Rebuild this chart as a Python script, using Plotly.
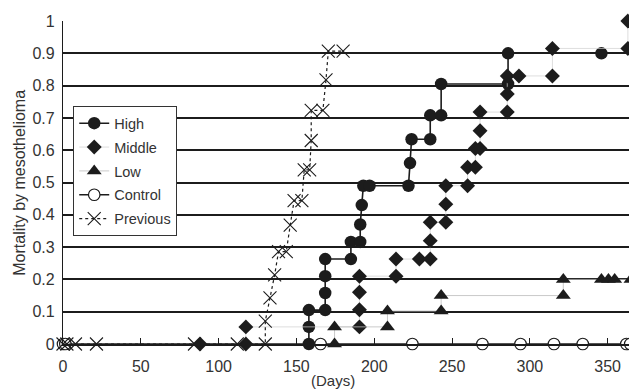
import plotly.graph_objects as go

# ---- data (days, cumulative mortality) ----
high_days = [158, 158, 158, 168.5, 168.5, 168.5, 168.5, 185, 185, 191, 191, 192, 193, 197, 222, 223, 224, 236, 236, 243, 243, 286, 286, 346]
high_mort = [0, 0.053, 0.105, 0.105, 0.158, 0.21, 0.263, 0.263, 0.316, 0.316, 0.37, 0.43, 0.49, 0.49, 0.49, 0.56, 0.634, 0.634, 0.708, 0.708, 0.805, 0.805, 0.90, 0.90]

middle_days = [88, 117.5, 117.5, 190.5, 190.5, 190.5, 190.5, 214, 214, 229, 236, 236, 236, 246, 246, 246, 260, 260, 265, 265, 268, 268, 268, 285.5, 285.5, 285.5, 293, 314.5, 314.5, 363, 363]
middle_mort = [0, 0, 0.053, 0.053, 0.106, 0.16, 0.21, 0.21, 0.263, 0.263, 0.263, 0.32, 0.377, 0.377, 0.433, 0.49, 0.49, 0.547, 0.547, 0.605, 0.605, 0.66, 0.718, 0.718, 0.774, 0.83, 0.83, 0.83, 0.915, 0.915, 1.0]

low_days = [174.5, 174.5, 208.5, 208.5, 243, 243, 321.5, 321.5, 346, 350.5, 354.5, 365]
low_mort = [0, 0.053, 0.053, 0.102, 0.102, 0.15, 0.15, 0.2, 0.2, 0.2, 0.2, 0.2]

control_days = [0, 1.5, 165.5, 224.5, 269.5, 294, 315.5, 334, 362, 364.5]
control_mort = [0, 0, 0, 0, 0, 0, 0, 0, 0, 0]

previous_days = [0, 2.5, 8, 21.5, 84.5, 112, 130, 130, 133, 136, 138.5, 143.5, 146, 148.5, 153.5, 155, 158.5, 159.5, 159.5, 167, 169, 170.5, 180]
previous_mort = [0, 0, 0, 0, 0, 0, 0, 0.071, 0.143, 0.214, 0.286, 0.286, 0.368, 0.444, 0.444, 0.539, 0.539, 0.63, 0.723, 0.723, 0.818, 0.907, 0.907]

x_ticks = [0, 50, 100, 150, 200, 250, 300, 350]
y_ticks = [0, 0.1, 0.2, 0.3, 0.4, 0.5, 0.6, 0.7, 0.8, 0.9, 1]
y_ticklabels = ["0", "0.1", "0.2", "0.3", "0.4", "0.5", "0.6", "0.7", "0.8", "0.9", "1"]

INK = "#1c1c1c"
TXT = "#333333"
FONT = "Liberation Sans, Arial, sans-serif"

fig = go.Figure()
fig.add_trace(go.Scatter(
    x=high_days, y=high_mort, name="High", mode="lines+markers", legendgroup="h",
    line=dict(color=INK, width=1.6),
    marker=dict(symbol="circle", size=12.5, color=INK),
    cliponaxis=False))
fig.add_trace(go.Scatter(
    x=middle_days, y=middle_mort, name="Middle", mode="lines+markers", legendgroup="m",
    line=dict(color="#d0d0d0", width=0.7),
    marker=dict(symbol="diamond", size=11.5, color=INK),
    cliponaxis=False))
fig.add_trace(go.Scatter(
    x=low_days, y=low_mort, name="Low", mode="lines+markers", legendgroup="l",
    line=dict(color="#bdbdbd", width=0.8),
    marker=dict(symbol="triangle-up", size=13, color=INK),
    cliponaxis=False))
fig.add_trace(go.Scatter(
    x=control_days, y=control_mort, name="Control", mode="lines+markers", legendgroup="c",
    line=dict(color=INK, width=1.4),
    marker=dict(symbol="circle", size=11.5, color="white", line=dict(color=INK, width=1.2)),
    cliponaxis=False))
fig.add_trace(go.Scatter(
    x=previous_days, y=previous_mort, name="Previous", mode="lines+markers", legendgroup="p",
    line=dict(color=INK, width=1.2, dash="dot"),
    marker=dict(symbol="x-thin", size=13, color=INK, line=dict(color=INK, width=1.1)),
    cliponaxis=False))

# page body has an 8px margin, so the figure is sized/offset to compensate
fig.update_layout(
    width=629, height=384,
    margin=dict(l=55, r=5, t=10, b=48),
    paper_bgcolor="white", plot_bgcolor="white",
    font=dict(family=FONT, color=TXT, size=16),
    showlegend=True,
    legend=dict(
        x=0.018, y=0.736, xanchor="left", yanchor="top",
        bgcolor="white", bordercolor=TXT, borderwidth=1,
        font=dict(size=14.5, color=TXT),
        itemwidth=30, tracegroupgap=2,
    ),
    xaxis=dict(
        range=[0, 365], tickvals=x_ticks, ticktext=[str(v) for v in x_ticks],
        ticks="inside", ticklen=6, tickcolor=INK, tickwidth=1,
        showline=True, linecolor=INK, linewidth=1.5,
        showgrid=False, zeroline=False, ticklabelstandoff=7,
        tickfont=dict(size=16),
    ),
    yaxis=dict(
        range=[0, 1], tickvals=y_ticks, ticktext=y_ticklabels,
        ticks="", showline=True, linecolor=INK, linewidth=1.2, mirror=True,
        showgrid=True, gridcolor=INK, gridwidth=1.6, zeroline=False,
        ticklabelstandoff=4, tickfont=dict(size=16),
    ),
    annotations=[
        dict(text="(Days)", xref="paper", yref="paper", x=0.475, y=-0.113,
             xanchor="center", yanchor="middle", showarrow=False,
             font=dict(size=15, color=TXT)),
        dict(text="Mortality by mesothelioma", xref="paper", yref="paper",
             x=-0.077, y=0.5, xanchor="center", yanchor="middle", textangle=-90,
             showarrow=False, font=dict(size=16, color=TXT)),
    ],
)

fig.write_html("out.html")
